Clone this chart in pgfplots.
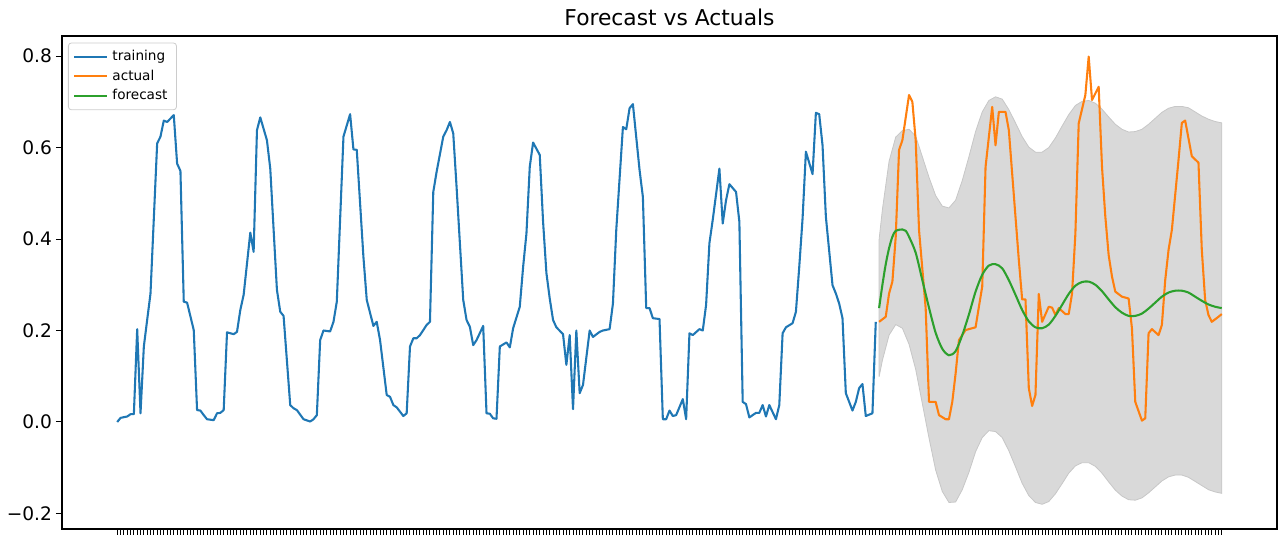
\documentclass[border=0pt]{standalone}
\usepackage{fontspec}
\setmainfont{DejaVu Sans}
\usepackage{pgfplots}
\pgfplotsset{compat=1.18}
\definecolor{mplblue}{HTML}{1F77B4}
\definecolor{mplorange}{HTML}{FF7F0E}
\definecolor{mplgreen}{HTML}{2CA02C}
\begin{document}
\begin{tikzpicture}
\useasboundingbox (0,0) rectangle (641pt,271pt);
\begin{axis}[
  at={(31pt,6.5pt)}, anchor=south west,
  scale only axis, width=607.5pt, height=246.5pt,
  xmin=-16.6, xmax=348.6, ymin=-0.234, ymax=0.844,
  axis line style={black, line width=0.55pt},
  tick style={black, line width=0.5pt},
  tick align=outside, tick pos=left,
  major tick length=3pt,
  xtick={0,...,332}, xticklabels={},
  ytick={-0.2,0,0.2,0.4,0.6,0.8},
  yticklabels={−0.2,0.0,0.2,0.4,0.6,0.8},
  yticklabel style={font=\fontsize{9.3}{10}\selectfont, xshift=1.5pt},
  title={Forecast vs Actuals},
  title style={font=\fontsize{10.9}{12}\selectfont, at={(0.5,1)}, anchor=base, yshift=-1pt},
  legend style={at={(0,1)}, anchor=north west, xshift=3pt, yshift=-3.3pt,
    font=\fontsize{6.8}{7}\selectfont, draw=black!20, rounded corners=1.5pt,
    fill=white, fill opacity=0.8, text opacity=1, row sep=-0.9pt,
    inner xsep=2.5pt, inner ysep=1.6pt},
  legend cell align=left,
  legend image code/.code={\draw[#1] (0pt,0pt) -- (16.5pt,0pt);},
]
\addplot[fill=black!15, draw=black!22, line width=0.4pt, forget plot] coordinates {
(229,0.399)(230,0.465)(232,0.57)(234,0.623)(236,0.637)(238,0.64)(240,0.625)(242,0.58)(244,0.535)(246,0.495)(248,0.472)(250,0.468)(252,0.485)(254,0.528)(256,0.58)(258,0.635)(260,0.678)(262,0.703)(264,0.711)(266,0.706)(268,0.683)(270,0.654)(272,0.624)(274,0.601)(276,0.59)(278,0.59)(280,0.60)(282,0.621)(284,0.647)(286,0.672)(288,0.692)(290,0.701)(292,0.703)(294,0.697)(296,0.684)(298,0.667)(300,0.651)(302,0.64)(304,0.634)(306,0.635)(308,0.64)(310,0.651)(312,0.664)(314,0.677)(316,0.686)(318,0.69)(320,0.69)(322,0.687)(324,0.678)(326,0.669)(328,0.662)(330,0.657)(332,0.654)
(332,-0.156)(330,-0.153)(328,-0.148)(326,-0.139)(324,-0.13)(322,-0.121)(320,-0.116)(318,-0.116)(316,-0.12)(314,-0.129)(312,-0.142)(310,-0.155)(308,-0.166)(306,-0.171)(304,-0.17)(302,-0.162)(300,-0.149)(298,-0.131)(296,-0.112)(294,-0.097)(292,-0.089)(290,-0.089)(288,-0.096)(286,-0.112)(284,-0.135)(282,-0.157)(280,-0.174)(278,-0.18)(276,-0.176)(274,-0.161)(272,-0.134)(270,-0.098)(268,-0.063)(266,-0.034)(264,-0.021)(262,-0.019)(260,-0.034)(258,-0.065)(256,-0.11)(254,-0.148)(252,-0.175)(250,-0.176)(248,-0.152)(246,-0.105)(244,-0.035)(242,0.04)(240,0.115)(238,0.17)(236,0.205)(234,0.213)(232,0.19)(230,0.135)(229,0.099)
} -- cycle;
\addplot[mplblue, line width=1.04pt, line join=round] coordinates {
(0,0.000)(1,0.009)(3,0.012)(4,0.017)(5,0.017)(6,0.203)(7,0.019)(8,0.165)(10,0.281)(12,0.609)(13,0.624)(14,0.659)(15,0.656)(17,0.671)(18,0.565)(19,0.549)(20,0.263)(21,0.261)(23,0.201)(24,0.026)(25,0.025)(26,0.015)(27,0.006)(29,0.004)(30,0.019)(31,0.020)(32,0.026)(33,0.196)(35,0.192)(36,0.197)(37,0.245)(38,0.278)(40,0.414)(41,0.372)(42,0.638)(43,0.666)(45,0.616)(46,0.554)(48,0.289)(49,0.241)(50,0.232)(52,0.037)(53,0.030)(54,0.026)(56,0.006)(58,0.001)(59,0.006)(60,0.015)(61,0.179)(62,0.200)(64,0.198)(65,0.219)(66,0.263)(68,0.624)(70,0.673)(71,0.596)(72,0.595)(74,0.361)(75,0.267)(77,0.210)(78,0.219)(79,0.179)(81,0.059)(82,0.055)(83,0.037)(84,0.032)(86,0.013)(87,0.019)(88,0.165)(89,0.183)(90,0.183)(91,0.190)(93,0.212)(94,0.219)(95,0.503)(96,0.547)(98,0.624)(99,0.638)(100,0.656)(101,0.631)(102,0.514)(104,0.267)(105,0.223)(106,0.208)(107,0.168)(108,0.179)(110,0.210)(111,0.019)(112,0.018)(113,0.008)(114,0.007)(115,0.165)(117,0.174)(118,0.163)(119,0.205)(121,0.252)(122,0.339)(123,0.412)(124,0.558)(125,0.611)(127,0.584)(128,0.438)(129,0.326)(130,0.270)(131,0.223)(132,0.207)(134,0.192)(135,0.125)(136,0.190)(137,0.028)(138,0.200)(139,0.063)(140,0.081)(142,0.200)(143,0.186)(145,0.197)(146,0.200)(148,0.203)(149,0.259)(150,0.420)(152,0.645)(153,0.640)(154,0.686)(155,0.695)(157,0.551)(158,0.492)(159,0.249)(160,0.249)(161,0.227)(163,0.225)(164,0.006)(165,0.006)(166,0.025)(167,0.013)(168,0.015)(170,0.050)(171,0.006)(172,0.194)(173,0.190)(175,0.203)(176,0.200)(177,0.256)(178,0.391)(179,0.442)(181,0.554)(182,0.434)(183,0.485)(184,0.520)(186,0.503)(187,0.438)(188,0.044)(189,0.039)(190,0.010)(192,0.020)(193,0.020)(194,0.037)(195,0.012)(196,0.037)(198,0.006)(199,0.037)(200,0.194)(201,0.207)(203,0.216)(204,0.241)(205,0.339)(206,0.445)(207,0.591)(209,0.542)(210,0.676)(211,0.673)(212,0.605)(213,0.449)(215,0.299)(216,0.281)(217,0.259)(218,0.227)(219,0.063)(221,0.025)(222,0.044)(223,0.074)(224,0.083)(225,0.013)(227,0.019)(228,0.219)
};
\addlegendentry{training}
\addplot[mplorange, line width=1.04pt, line join=round] coordinates {
(229,0.219)(231,0.230)(232,0.281)(233,0.307)(234,0.405)(235,0.595)(236,0.616)(238,0.715)(239,0.700)(240,0.616)(241,0.420)(243,0.249)(244,0.044)(245,0.044)(246,0.044)(247,0.015)(249,0.006)(250,0.006)(251,0.044)(252,0.106)(253,0.179)(255,0.201)(256,0.203)(258,0.207)(259,0.252)(260,0.296)(261,0.558)(263,0.689)(264,0.605)(265,0.678)(267,0.678)(268,0.638)(269,0.543)(271,0.354)(272,0.268)(273,0.268)(274,0.074)(275,0.035)(276,0.059)(277,0.280)(278,0.219)(280,0.252)(281,0.250)(282,0.234)(283,0.249)(285,0.236)(286,0.236)(287,0.281)(288,0.412)(289,0.653)(291,0.715)(292,0.799)(293,0.704)(295,0.733)(296,0.558)(297,0.449)(298,0.365)(299,0.318)(300,0.285)(302,0.274)(304,0.270)(305,0.205)(306,0.044)(308,0.003)(309,0.008)(310,0.194)(311,0.203)(313,0.190)(314,0.212)(315,0.310)(316,0.376)(317,0.420)(319,0.573)(320,0.654)(321,0.659)(322,0.620)(323,0.581)(325,0.567)(326,0.376)(327,0.267)(328,0.234)(329,0.219)(331,0.230)(332,0.236)
};
\addlegendentry{actual}
\addplot[mplgreen, line width=1.04pt, smooth] coordinates {
(229,0.249)(230,0.300)(231,0.345)(232,0.380)(233,0.405)(234,0.418)(236,0.421)(237,0.418)(238,0.405)(240,0.370)(242,0.310)(244,0.250)(246,0.195)(248,0.160)(250,0.146)(252,0.155)(254,0.190)(256,0.235)(258,0.285)(260,0.322)(262,0.342)(264,0.345)(266,0.336)(268,0.310)(270,0.278)(272,0.245)(274,0.220)(276,0.207)(278,0.205)(280,0.213)(282,0.232)(284,0.256)(286,0.280)(288,0.298)(290,0.306)(292,0.307)(294,0.300)(296,0.286)(298,0.268)(300,0.251)(302,0.239)(304,0.232)(306,0.232)(308,0.237)(310,0.248)(312,0.261)(314,0.274)(316,0.283)(318,0.287)(320,0.287)(322,0.283)(324,0.274)(326,0.265)(328,0.257)(330,0.252)(332,0.249)
};
\addlegendentry{forecast}
\end{axis}
\end{tikzpicture}
\end{document}
